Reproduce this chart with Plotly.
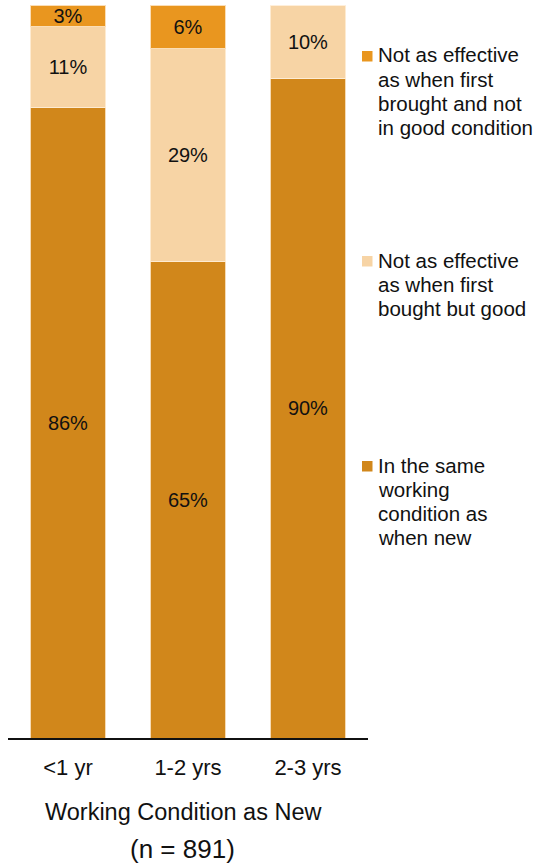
import plotly.graph_objects as go

# ---- data ----
categories = ["<1 yr", "1-2 yrs", "2-3 yrs"]
same_as_new = [86, 65, 90]
less_effective_good = [11, 29, 10]
less_effective_poor = [3, 6, 0]

series_names = [
    "In the same<br>working<br>condition as<br>when new",
    "Not as effective<br>as when first<br>bought but good",
    "Not as effective<br>as when first<br>brought and not<br>in good condition",
]
series_values = [same_as_new, less_effective_good, less_effective_poor]
series_colors = ["#D1871B", "#F7D4A5", "#E9961F"]

axis_title = "Working Condition as New"
sample_note = "(n = 891)"

# ---- layout geometry (pixels) ----
W, H = 551, 865
L, R, T, B = 8, 183, 5, 127
PW, PH = W - L - R, H - T - B
FONT = "Liberation Sans, Arial, sans-serif"


def px_x(px):
    return (px - L) / PW


def px_y(py):
    return (H - B - py) / PH


fig = go.Figure()
for name, vals, col in zip(series_names, series_values, series_colors):
    fig.add_trace(go.Bar(
        x=categories,
        y=vals,
        name=name,
        marker=dict(color=col, line=dict(color="rgba(255,240,220,0.8)", width=1)),
        text=[f"{v}%" if v else "" for v in vals],
        textposition="inside",
        insidetextanchor="middle",
        textangle=0,
        textfont=dict(family=FONT, size=20, color="#111111"),
        showlegend=False,
        hoverinfo="skip",
    ))

annotations = []
shapes = []

# legend: coloured square plus a label written line by line
legend_first_line_y = [465, 260, 55]
LINE_STEP = 24.3
for name, col, y0 in zip(series_names, series_colors, legend_first_line_y):
    shapes.append(dict(
        type="rect", xref="paper", yref="paper",
        x0=px_x(362), x1=px_x(372.5), y0=px_y(y0 + 6.5), y1=px_y(y0 - 4),
        fillcolor=col, line=dict(width=0),
    ))
    for i, line in enumerate(name.split("<br>")):
        annotations.append(dict(
            text=line, xref="paper", yref="paper",
            x=px_x(376.5), y=px_y(y0 + i * LINE_STEP),
            xanchor="left", yanchor="middle",
            align="left", showarrow=False,
            font=dict(family=FONT, size=20.5, color="#111111"),
        ))

annotations.append(dict(
    text=axis_title, xref="paper", yref="paper",
    x=px_x(183), y=px_y(812), xanchor="center", yanchor="middle",
    showarrow=False, font=dict(family=FONT, size=23.5, color="#111111"),
))
annotations.append(dict(
    text=sample_note, xref="paper", yref="paper",
    x=px_x(182), y=px_y(849), xanchor="center", yanchor="middle",
    showarrow=False, borderpad=0,
    font=dict(family=FONT, size=26, color="#111111"),
))

fig.update_layout(
    width=W, height=H,
    margin=dict(l=L, r=R, t=T, b=B),
    barmode="stack",
    bargap=0.367,
    plot_bgcolor="white",
    paper_bgcolor="white",
    uniformtext=dict(minsize=20, mode="show"),
    annotations=annotations,
    shapes=shapes,
    font=dict(family=FONT, color="#111111"),
)
fig.update_xaxes(
    showline=True, linecolor="#111111", linewidth=2,
    showgrid=False, ticks="", zeroline=False,
    tickfont=dict(family=FONT, size=22, color="#111111"),
    ticklabelstandoff=9,
    range=[-0.5, 2.5],
)
fig.update_yaxes(
    range=[0, 100], visible=False, showgrid=False, zeroline=False,
)

fig.write_html("out.html")
